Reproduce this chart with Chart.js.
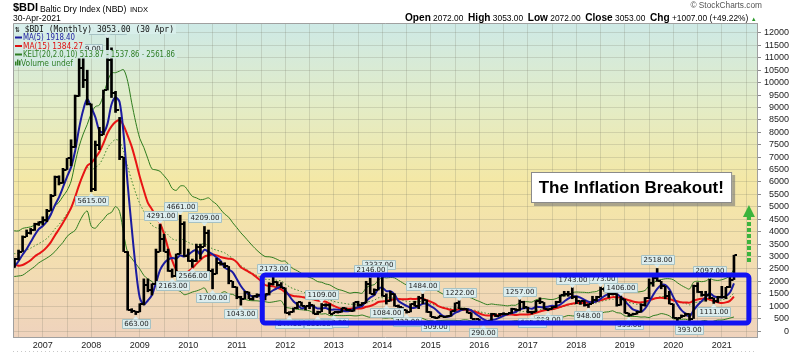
<!DOCTYPE html>
<html><head><meta charset="utf-8">
<script src="https://cdn.jsdelivr.net/npm/chart.js@4/dist/chart.umd.min.js"></script>
<style>
html,body{margin:0;padding:0;background:#fff;}
#wrap{position:relative;width:800px;height:353px;overflow:hidden;}
canvas{display:block;}
.h{position:absolute;white-space:nowrap;line-height:1;color:#000;font-family:"Liberation Sans",Arial,sans-serif;}
.h b{font-weight:bold;font-size:10.1px;}
</style>
</head><body>
<div id="wrap">
<canvas id="c" width="800" height="353"></canvas>
<span class="h" style="left:13px;top:2px;font-weight:bold;font-size:11px;">$BDI</span>
<span class="h" style="left:40px;top:5px;font-size:8.6px;">Baltic Dry Index (NBD)</span>
<span class="h" style="left:130px;top:6px;font-size:7.6px;">INDX</span>
<span class="h" style="left:13px;top:14px;font-size:8.6px;">30-Apr-2021</span>
<span class="h" style="right:38px;top:1px;font-size:8.3px;color:#555;">© StockCharts.com</span>
<span class="h" id="ohlc" style="left:405px;top:13px;font-size:8.4px;"></span>
</div>
<script>
// ---- Data: monthly Baltic Dry Index bars, Jan 2005 .. Apr 2021 (Jan 2005 - May 2006 only warm up the indicators)
const firstYear = 2005;
const open = [
  4600,4800,4700,4800,4200,3400,2700,2400,2000,2800,2800,2500,          // 2005
  2400,2200,2200,2500,2800,2650,2900,3200,3800,3950,4050,4300,          // 2006
  4397,4450,4850,5450,6200,5950,6500,6950,7400,9450,10600,10100,        // 2007
  9143,5700,7500,7900,9700,10900,9600,8900,7000,3200,850,800,           // 2008
  774,1070,1850,1650,1880,3200,3700,3200,2400,2200,3100,4300,           // 2009
  3005,2800,2800,3400,3400,3950,2400,2300,2750,2700,2600,2000,          // 2010
  1773,1390,1300,1560,1300,1400,1440,1380,1500,1900,1990,1850,          // 2011
  1738,726,760,920,1150,1010,1000,1050,700,780,1050,1050,               // 2012
  699,750,760,910,850,820,1150,1050,1130,1900,1500,1650,                // 2013
  2277,1400,1200,1500,1000,950,850,770,1100,1000,1350,1250,             // 2014
  782,580,530,590,570,600,790,1130,900,890,740,500,                     // 2015
  478,337,325,390,690,600,690,700,710,900,830,1180,                     // 2016
  961,750,770,1200,1150,900,880,950,1160,1450,1500,1480,                // 2017
  1366,1200,1190,1050,1100,1250,1380,1700,1650,1500,1500,1040,          // 2018
  1271,720,640,700,760,1050,1350,1950,2150,2000,1800,1400,              // 2019
  1090,540,538,625,705,504,1799,1559,1444,1469,1327,1202,               // 2020
  1366,1374,1753,2072                                                   // 2021
];
const high = [
  5200,5000,5000,4800,4200,3400,2700,2400,2900,3000,2800,2500,
  2400,2300,2600,2900,2900,2930,3260,3830,4070,4130,4340,4400,
  4600,4900,5500,6240,6250,6550,6950,7700,9500,11000,11039,10500,
  9143,7650,8200,9700,11793,11400,9650,8600,7000,3200,900,800,
  1100,2100,2100,1900,3300,4291,3900,3300,2500,3100,4661,4400,
  3300,2900,3500,3500,4209,4067,2500,2930,2800,2750,2600,2000,
  1773,1400,1600,1570,1420,1500,1500,1500,1950,2173,1990,1950,
  1738,780,930,1160,1166,1010,1160,1050,800,1109,1100,1100,
  760,800,930,930,880,1150,1200,1150,2003,2146,1700,2337,
  2277,1500,1600,1500,1050,950,850,1100,1200,1400,1484,1250,
  782,580,600,600,620,800,1130,1222,920,890,740,500,
  478,340,400,715,700,710,740,715,920,900,1257,1200,
  961,800,1220,1338,1150,900,990,1200,1450,1600,1600,1743,
  1400,1220,1230,1100,1400,1400,1773,1760,1650,1600,1500,1406,
  1280,720,720,800,1100,1350,2100,2200,2518,2000,1800,1600,
  1090,540,650,720,705,1850,1950,1600,1600,2097,1327,1400,
  1800,1760,2300,3053
];
const low = [
  4500,4500,4600,4100,3300,2600,2300,1750,2000,2700,2400,2400,
  2100,2100,2200,2500,2600,2560,2860,3200,3800,3900,4050,4250,
  4270,4400,4850,5450,5880,5950,6500,6650,7400,9450,9800,9100,
  5615,5650,7300,7900,9700,9400,8800,6900,3200,840,743,663,
  772,1050,1580,1450,1880,3200,3200,2400,2163,2200,3100,3000,
  2800,2566,2800,2900,3400,2390,1700,2300,2650,2550,1900,1750,
  1300,1043,1300,1300,1250,1350,1300,1250,1450,1850,1800,1738,
  720,647,760,900,1000,850,900,690,661,780,990,699,
  698,720,760,830,800,800,1000,1050,1130,1500,1450,1650,
  1400,1084,1200,1000,950,850,723,770,1000,900,1100,750,
  580,509,530,560,560,600,790,900,850,730,500,470,
  337,290,325,390,580,600,650,660,710,810,830,900,
  730,685,770,1100,880,818,880,950,1150,1400,1400,1300,
  1100,1070,1000,948,1100,1200,1380,1600,1350,1450,1000,1040,
  720,595,640,680,760,1000,1300,1800,2000,1700,1300,1090,
  520,411,538,600,393,504,1550,1400,1200,1300,1111,1150,
  1330,1300,1750,2072
];
const close = [
  4800,4700,4800,4200,3400,2700,2400,2000,2800,2800,2500,2400,
  2200,2200,2500,2800,2650,2900,3200,3800,3950,4050,4300,4397,
  4450,4850,5450,6200,5950,6500,6950,7400,9450,10600,10100,9143,
  5700,7500,7900,9700,10900,9600,8900,7000,3200,850,800,774,
  1070,1850,1650,1880,3200,3700,3200,2400,2200,3100,4300,3005,
  2800,2800,3400,3400,3950,2400,2300,2750,2700,2600,2000,1773,
  1390,1300,1560,1300,1400,1440,1380,1500,1900,1990,1850,1738,
  726,760,920,1150,1010,1000,1050,700,780,1050,1050,699,
  750,760,910,850,820,1150,1050,1130,1900,1500,1650,2277,
  1400,1200,1500,1000,950,850,770,1100,1000,1350,1250,782,
  580,530,590,570,600,790,1130,900,890,740,500,478,
  337,325,390,690,600,690,700,710,900,830,1180,961,
  750,770,1200,1150,900,880,950,1160,1450,1500,1480,1366,
  1200,1190,1050,1100,1250,1380,1700,1650,1500,1500,1040,1271,
  720,640,700,760,1050,1350,1950,2150,2000,1800,1400,1090,
  540,538,625,705,504,1799,1559,1444,1469,1327,1202,1366,
  1374,1753,2046,3053
];
// labelled swing highs / lows (month keys)
const highLabels = ["2007-11","2008-05","2009-06","2009-11","2010-05","2011-10","2012-10","2013-10","2013-12",
                    "2014-11","2015-08","2016-11","2017-12","2018-07","2018-12","2019-09","2020-10"];
const lowLabels  = ["2008-01","2008-12","2009-09","2010-02","2010-07","2011-02","2012-02","2012-09","2013-01",
                    "2014-02","2014-07","2015-02","2016-02","2017-02","2017-06","2018-04","2019-02","2020-05","2020-11"];
// axis ticks
const yTicks = [0,500,1000,1500,2000,2500,3000,3500,4000,4500,5000,5500,6000,6500,7000,7500,8000,8500,9000,9500,
                10000,10500,11000,11500,12000];
const xGrid = [-6,0,6,12,18,24,30,36,42,48,54,60,66,72,78,84,90,96,102,108,114,120,126,132,138,144,150,156,162,168,174];
const yearLabels = {0:"2007",12:"2008",24:"2009",36:"2010",48:"2011",60:"2012",72:"2013",84:"2014",96:"2015",
                    108:"2016",120:"2017",132:"2018",144:"2019",156:"2020",168:"2021"};
const legendTitle = "\u21C5 $BDI (Monthly) 3053.00 (30 Apr)";
const legendLines = ["MA(5) 1918.40","MA(15) 1384.27","KELT(20,2.0,10) 513.87 - 1537.86 - 2561.86","Volume undef"];
const headerText = {open:"2072.00",high:"3053.00",low:"2072.00",close:"3053.00",chg:"+1007.00 (+49.22%)"};
const calloutText = "The Inflation Breakout!";
// annotation anchors in data units (months since Jan 2007, index value)
const rangeBox = {x0:54.3, x1:174.7, y0:322, y1:2254};
const callout = {x:145.6, y:5776};
const arrow = {x:174.7, yBottom:2780, yBase:4590, yTip:5075};

// ---- month keys and x values (months since Jan 2007)
const months = close.map((_, i) => `${firstYear + Math.floor(i/12)}-${String(i%12+1).padStart(2,'0')}`);
const xOf = i => (firstYear - 2007) * 12 + i;

// ---- indicators
function sma(src, n){ return src.map((_, i) => i < n-1 ? null : src.slice(i-n+1, i+1).reduce((a,b)=>a+b,0)/n); }
const ma5 = sma(close, 5), ma15 = sma(close, 15);
const kMid = [], kUp = [], kLo = [];
(function(){
  let e = close[0], atr = high[0]-low[0];
  close.forEach((c, i) => {
    if (i > 0) {
      e = e + (2/21)*(c - e);
      const tr = Math.max(high[i]-low[i], Math.abs(high[i]-close[i-1]), Math.abs(low[i]-close[i-1]));
      atr = (atr*9 + tr)/10;
    }
    kMid.push(e); kUp.push(e + 2*atr); kLo.push(e - 2*atr);
  });
})();

const pts = arr => arr.map((v, i) => ({x: xOf(i), y: v}));

function tickImage(side){
  const c = document.createElement('canvas'); c.width = 7; c.height = 2;
  const g = c.getContext('2d'); g.fillStyle = '#000';
  if (side < 0) g.fillRect(0,0,3,2); else g.fillRect(4,0,3,2);
  return c;
}

document.getElementById('ohlc').innerHTML =
  `<b>Open</b> ${headerText.open}&nbsp; <b>High</b> ${headerText.high}&nbsp; <b>Low</b> ${headerText.low}&nbsp; <b>Close</b> ${headerText.close}&nbsp; <b>Chg</b> ${headerText.chg} <span style="color:#2a9a2a;font-size:6px">&#9650;</span>`;

function tag(ctx, x, y, txt, isHigh){
  ctx.font = '7px "DejaVu Sans"';
  const w = Math.round(ctx.measureText(txt).width) + 4, h = 9;
  const bx = Math.round(x - w/2) + 0.5;
  const by = isHigh ? Math.round(y - 4 - h) + 0.5 : Math.round(y + 4) + 0.5;
  ctx.fillStyle = '#dcedee'; ctx.strokeStyle = '#a6c2c4'; ctx.lineWidth = 1;
  ctx.beginPath(); ctx.rect(bx, by, w, h); ctx.fill(); ctx.stroke();
  ctx.beginPath();
  if (isHigh){ ctx.moveTo(x-3, by+h); ctx.lineTo(x+3, by+h); ctx.lineTo(x, by+h+3.5); }
  else { ctx.moveTo(x-3, by); ctx.lineTo(x+3, by); ctx.lineTo(x, by-3.5); }
  ctx.closePath(); ctx.fillStyle = '#dcedee'; ctx.fill();
  ctx.fillStyle = '#222'; ctx.textAlign = 'center'; ctx.textBaseline = 'middle';
  ctx.fillText(txt, bx + w/2, by + h/2 + 0.5);
}

const deco = {
  id: 'deco',
  beforeDraw(chart){
    const {ctx, chartArea: a} = chart;
    const g = ctx.createLinearGradient(0, a.top, 0, a.bottom);
    g.addColorStop(0, '#cde9e6');
    g.addColorStop(0.25, '#e2ecc8');
    g.addColorStop(0.5, '#f4e8a6');
    g.addColorStop(0.75, '#f3deb0');
    g.addColorStop(1, '#efd3bd');
    ctx.save(); ctx.fillStyle = g; ctx.fillRect(a.left, a.top, a.right-a.left, a.bottom-a.top); ctx.restore();
  },
  afterDatasetsDraw(chart){
    const {ctx, chartArea: a, scales: {x, y}} = chart;
    ctx.save();
    ctx.beginPath(); ctx.rect(a.left, a.top, a.right-a.left, a.bottom-a.top); ctx.clip();
    // value tags (drawn latest-first so earlier tags sit on top)
    const tags = [];
    highLabels.forEach(k => tags.push([months.indexOf(k), true]));
    lowLabels.forEach(k => tags.push([months.indexOf(k), false]));
    tags.sort((p, q) => q[0] - p[0]);
    tags.forEach(([i, hi]) => {
      const v = hi ? high[i] : low[i];
      tag(ctx, x.getPixelForValue(xOf(i)), y.getPixelForValue(v), v.toFixed(2), hi);
    });
    // blue range box
    const bx0 = x.getPixelForValue(rangeBox.x0), bx1 = x.getPixelForValue(rangeBox.x1);
    const by0 = y.getPixelForValue(rangeBox.y1), by1 = y.getPixelForValue(rangeBox.y0);
    ctx.strokeStyle = '#1212f2'; ctx.lineWidth = 5;
    ctx.beginPath(); ctx.roundRect(bx0, by0, bx1-bx0, by1-by0, 3); ctx.stroke();
    // callout
    ctx.font = 'bold 17px "Liberation Sans", Arial';
    const tw = ctx.measureText(calloutText).width;
    const cx = x.getPixelForValue(callout.x), cy = y.getPixelForValue(callout.y);
    const cw = tw + 16, ch = 31;
    ctx.fillStyle = 'rgba(120,120,120,0.6)';
    ctx.fillRect(Math.round(cx - cw/2) + 3, Math.round(cy - ch/2) + 3, cw, ch);
    ctx.fillStyle = '#fff'; ctx.strokeStyle = '#8a8a8a'; ctx.lineWidth = 1;
    ctx.fillRect(Math.round(cx - cw/2), Math.round(cy - ch/2), cw, ch);
    ctx.strokeRect(Math.round(cx - cw/2) + 0.5, Math.round(cy - ch/2) + 0.5, cw - 1, ch - 1);
    ctx.fillStyle = '#000'; ctx.textAlign = 'center'; ctx.textBaseline = 'middle';
    ctx.fillText(calloutText, cx, cy + 1);
    // green dotted arrow
    const ax = x.getPixelForValue(arrow.x);
    const ayB = y.getPixelForValue(arrow.yBottom), ayS = y.getPixelForValue(arrow.yBase), ayT = y.getPixelForValue(arrow.yTip);
    ctx.fillStyle = '#3cb43c';
    for (let yy = ayB; yy > ayS + 1; yy -= 6) ctx.fillRect(Math.round(ax - 2), Math.round(yy - 4), 4, 4);
    ctx.beginPath(); ctx.moveTo(ax - 6, ayS); ctx.lineTo(ax + 6, ayS); ctx.lineTo(ax, ayT); ctx.closePath(); ctx.fill();
    ctx.restore();

    // legend
    ctx.save();
    ctx.textAlign = 'left'; ctx.textBaseline = 'alphabetic';
    ctx.fillStyle = 'rgba(216,238,235,0.97)';
    ctx.fillRect(a.left + 1, a.top + 1, 162, 10);
    ctx.font = '9.5px "DejaVu Sans Mono"';
    ctx.fillStyle = '#111';
    ctx.fillText(legendTitle, a.left + 2, a.top + 9, 159);
    const rows = [
      {t: legendLines[0], c: '#1b1ba0', base: 40, w: 52},
      {t: legendLines[1], c: '#e01010', base: 48.5, w: 60},
      {t: legendLines[2], c: '#2e7d22', base: 57, w: 152},
      {t: legendLines[3], c: '#2e7d22', base: 65.5, w: 52}
    ];
    ctx.font = '8.5px "DejaVu Sans"';
    rows.forEach((r, k) => {
      const x0 = a.left + (k === 3 ? 8 : 10);
      ctx.fillStyle = 'rgba(212,235,228,0.95)';
      ctx.fillRect(a.left + 1, r.base - 7, (x0 - a.left) + r.w + 1, 8.5);
      ctx.fillStyle = r.c;
      if (k < 3) ctx.fillRect(a.left + 2, r.base - 3.5, 7, 2);
      else { ctx.fillRect(a.left + 2, r.base - 4, 1.5, 4); ctx.fillRect(a.left + 4, r.base - 6, 1.5, 6); ctx.fillRect(a.left + 6, r.base - 5, 1.5, 5); }
      ctx.fillText(r.t, x0, r.base, r.w);
    });
    // plot frame (top/left)
    ctx.strokeStyle = '#a0a0a0'; ctx.lineWidth = 1;
    ctx.beginPath();
    ctx.moveTo(a.left + 0.5, a.bottom); ctx.lineTo(a.left + 0.5, a.top + 0.5); ctx.lineTo(a.right, a.top + 0.5);
    ctx.stroke();
    // faint dotted baseline below axis labels
    ctx.fillStyle = '#c8c8c8';
    for (let xx = a.left; xx < a.right; xx += 4) ctx.fillRect(xx, 351, 1, 1);
    ctx.restore();
  }
};

const lineDs = (label, data, color, width, order, dash) => ({
  type: 'line', label, data: pts(data), borderColor: color, borderWidth: width, borderDash: dash || [],
  pointRadius: 0, tension: 0.3, spanGaps: false, order, clip: 0
});

new Chart(document.getElementById('c'), {
  type: 'bar',
  data: {
    datasets: [
      { type: 'bar', label: 'range', data: months.map((_, i) => ({x: xOf(i), y: [low[i], high[i]]})),
        backgroundColor: '#000', barThickness: 2, borderWidth: 0, order: 0, clip: 0 },
      { type: 'line', label: 'open', data: pts(open), showLine: false, pointStyle: tickImage(-1), pointRadius: 3, order: 0, clip: 0 },
      { type: 'line', label: 'close', data: pts(close), showLine: false, pointStyle: tickImage(1), pointRadius: 3, order: 0, clip: 0 },
      lineDs('MA5', ma5, '#1b1ba0', 2, 1),
      lineDs('MA15', ma15, '#e81414', 2, 2),
      lineDs('KU', kUp, '#2f7d1f', 1, 3),
      lineDs('KM', kMid, '#3f8a30', 1, 4, [1.5, 2]),
      lineDs('KL', kLo, '#2f7d1f', 1, 3)
    ]
  },
  options: {
    responsive: false, animation: false, events: [],
    layout: {padding: {left: 13, top: 23, right: 11, bottom: 0}},
    plugins: {legend: {display: false}, tooltip: {enabled: false}},
    scales: {
      x: {
        type: 'linear', offset: false, min: -7.37, max: 176.7,
        afterBuildTicks: s => { s.ticks = xGrid.map(v => ({value: v})); },
        grid: {offset: false, color: 'rgba(120,120,100,0.22)', drawTicks: false, lineWidth: 1},
        border: {display: true, color: '#a0a0a0'},
        ticks: {autoSkip: false, maxRotation: 0, padding: 3,
          color: '#222', font: {family: '"Liberation Sans", Arial', size: 9},
          callback: v => yearLabels[v] || ''},
        afterFit: s => { s.height = 16; }
      },
      y: {
        type: 'linear', position: 'right', min: -240, max: 12400,
        afterBuildTicks: s => { s.ticks = yTicks.map(v => ({value: v})); },
        grid: {color: 'rgba(120,120,100,0.22)', drawTicks: true, tickLength: 4, tickColor: '#8a8a8a'},
        border: {display: true, color: '#a0a0a0'},
        ticks: {padding: 3, crossAlign: 'far', autoSkip: false,
          color: '#222', font: {family: '"Liberation Sans", Arial', size: 9}, callback: v => String(v)},
        afterFit: s => { s.width = 32; }
      }
    }
  },
  plugins: [deco]
});
</script>
</body></html>
